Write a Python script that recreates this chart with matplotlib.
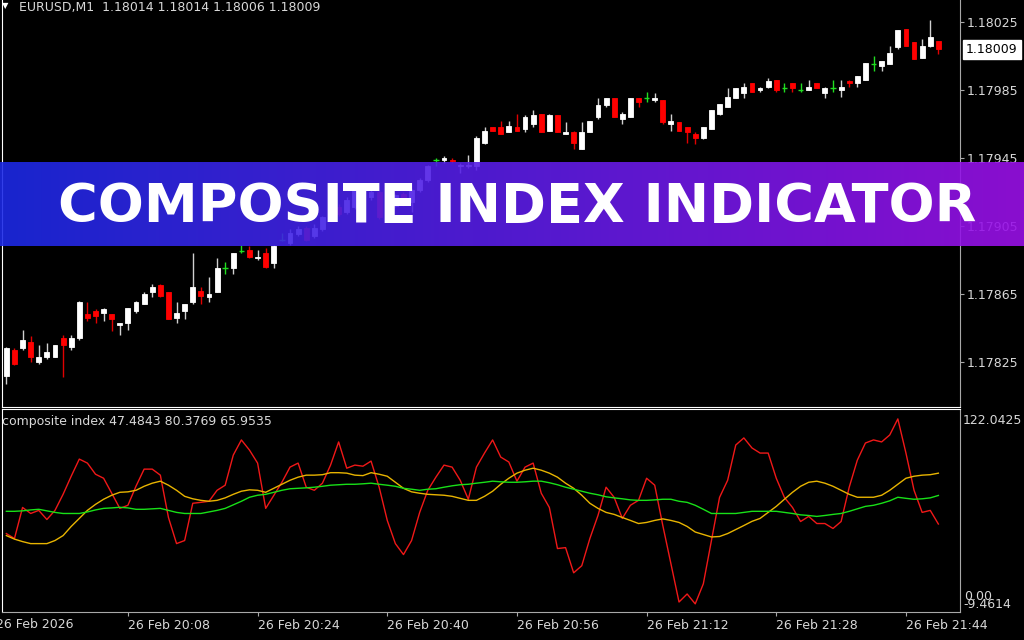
import numpy as np
import pandas as pd
import matplotlib
matplotlib.use("Agg")
import matplotlib.pyplot as plt
from matplotlib.transforms import blended_transform_factory

# EURUSD M1 candles, 26 Feb 2026 from 19:53
start_time = "2026-02-26 19:53"
opens = [1.17817, 1.17832, 1.17833, 1.17837, 1.17825, 1.17828, 1.17828, 1.17839, 1.17834, 1.17839,
         1.17853, 1.17855, 1.17854, 1.17853, 1.17847, 1.17848, 1.17855, 1.17859, 1.17866, 1.17870,
         1.17866, 1.17851, 1.17855, 1.17860, 1.17867, 1.17863, 1.17866, 1.17880, 1.17880, 1.17890,
         1.17891, 1.17886, 1.17889, 1.17883, 1.17897, 1.17895, 1.17900, 1.17904, 1.17899, 1.17903,
         1.17909, 1.17916, 1.17913, 1.17916, 1.17926, 1.17922, 1.17925, 1.17910, 1.17917, 1.17924,
         1.17919, 1.17926, 1.17932, 1.17944, 1.17944, 1.17944, 1.17940, 1.17940, 1.17940, 1.17954,
         1.17963, 1.17963, 1.17960, 1.17963, 1.17962, 1.17965, 1.17971, 1.17961, 1.17970, 1.17959,
         1.17960, 1.17950, 1.17960, 1.17969, 1.17976, 1.17980, 1.17968, 1.17969, 1.17980, 1.17980,
         1.17979, 1.17979, 1.17965, 1.17966, 1.17963, 1.17959, 1.17957, 1.17962, 1.17971, 1.17975,
         1.17980, 1.17983, 1.17989, 1.17985, 1.17987, 1.17991, 1.17986, 1.17989, 1.17985, 1.17985,
         1.17989, 1.17983, 1.17986, 1.17985, 1.17990, 1.17989, 1.17991, 1.18000, 1.17999, 1.18000,
         1.18010, 1.18021, 1.18013, 1.18004, 1.18011, 1.18014]
highs = [1.17834, 1.17833, 1.17844, 1.17840, 1.17835, 1.17836, 1.17835, 1.17841, 1.17841, 1.17861,
         1.17860, 1.17856, 1.17857, 1.17853, 1.17848, 1.17857, 1.17861, 1.17866, 1.17871, 1.17871,
         1.17866, 1.17860, 1.17859, 1.17889, 1.17869, 1.17875, 1.17886, 1.17884, 1.17889, 1.17894,
         1.17893, 1.17891, 1.17892, 1.17894, 1.17901, 1.17903, 1.17905, 1.17905, 1.17906, 1.17911,
         1.17917, 1.17918, 1.17922, 1.17928, 1.17929, 1.17927, 1.17926, 1.17919, 1.17924, 1.17925,
         1.17927, 1.17933, 1.17941, 1.17945, 1.17946, 1.17945, 1.17942, 1.17947, 1.17958, 1.17963,
         1.17963, 1.17967, 1.17967, 1.17971, 1.17970, 1.17973, 1.17971, 1.17971, 1.17970, 1.17966,
         1.17961, 1.17966, 1.17967, 1.17980, 1.17980, 1.17980, 1.17972, 1.17980, 1.17980, 1.17984,
         1.17983, 1.17979, 1.17971, 1.17966, 1.17963, 1.17960, 1.17963, 1.17973, 1.17977, 1.17986,
         1.17986, 1.17989, 1.17989, 1.17987, 1.17992, 1.17991, 1.17989, 1.17989, 1.17989, 1.17991,
         1.17989, 1.17987, 1.17991, 1.17991, 1.17991, 1.17993, 1.18001, 1.18005, 1.18002, 1.18011,
         1.18020, 1.18021, 1.18013, 1.18015, 1.18026, 1.18014]
lows = [1.17812, 1.17823, 1.17832, 1.17825, 1.17824, 1.17827, 1.17828, 1.17816, 1.17832, 1.17838,
        1.17849, 1.17848, 1.17849, 1.17843, 1.17841, 1.17844, 1.17854, 1.17859, 1.17863, 1.17863,
        1.17850, 1.17848, 1.17850, 1.17859, 1.17859, 1.17860, 1.17866, 1.17877, 1.17877, 1.17889,
        1.17886, 1.17885, 1.17880, 1.17880, 1.17896, 1.17894, 1.17899, 1.17896, 1.17898, 1.17902,
        1.17908, 1.17911, 1.17912, 1.17915, 1.17921, 1.17920, 1.17909, 1.17909, 1.17916, 1.17917,
        1.17913, 1.17925, 1.17931, 1.17940, 1.17942, 1.17942, 1.17936, 1.17939, 1.17938, 1.17953,
        1.17961, 1.17959, 1.17960, 1.17961, 1.17960, 1.17963, 1.17960, 1.17961, 1.17960, 1.17959,
        1.17950, 1.17950, 1.17960, 1.17968, 1.17975, 1.17969, 1.17965, 1.17969, 1.17975, 1.17978,
        1.17978, 1.17965, 1.17961, 1.17961, 1.17954, 1.17953, 1.17956, 1.17962, 1.17970, 1.17975,
        1.17980, 1.17980, 1.17984, 1.17984, 1.17986, 1.17984, 1.17984, 1.17984, 1.17984, 1.17985,
        1.17986, 1.17980, 1.17984, 1.17981, 1.17987, 1.17987, 1.17991, 1.17996, 1.17996, 1.18000,
        1.18009, 1.18011, 1.18003, 1.18004, 1.18010, 1.18006]
closes = [1.17833, 1.17824, 1.17838, 1.17828, 1.17828, 1.17831, 1.17835, 1.17835, 1.17839, 1.17860,
          1.17851, 1.17852, 1.17856, 1.17850, 1.17848, 1.17857, 1.17860, 1.17865, 1.17869, 1.17864,
          1.17850, 1.17854, 1.17859, 1.17869, 1.17864, 1.17865, 1.17880, 1.17880, 1.17889, 1.17890,
          1.17887, 1.17887, 1.17881, 1.17893, 1.17897, 1.17901, 1.17903, 1.17897, 1.17904, 1.17910,
          1.17916, 1.17912, 1.17920, 1.17926, 1.17923, 1.17925, 1.17910, 1.17917, 1.17923, 1.17919,
          1.17926, 1.17932, 1.17940, 1.17944, 1.17945, 1.17943, 1.17941, 1.17941, 1.17957, 1.17961,
          1.17961, 1.17959, 1.17964, 1.17961, 1.17969, 1.17970, 1.17960, 1.17970, 1.17960, 1.17960,
          1.17954, 1.17960, 1.17967, 1.17976, 1.17980, 1.17969, 1.17971, 1.17980, 1.17978, 1.17980,
          1.17980, 1.17966, 1.17967, 1.17961, 1.17960, 1.17957, 1.17963, 1.17973, 1.17977, 1.17981,
          1.17986, 1.17987, 1.17984, 1.17986, 1.17990, 1.17985, 1.17986, 1.17986, 1.17985, 1.17987,
          1.17986, 1.17986, 1.17986, 1.17987, 1.17989, 1.17993, 1.18001, 1.18000, 1.18002, 1.18007,
          1.18020, 1.18011, 1.18003, 1.18011, 1.18016, 1.18009]

# composite index indicator buffers
composite = [41.3, 38.1, 58.2, 54.3, 56.3, 50.4, 56.3, 66.7, 78.4, 89.5,
             86.9, 79.7, 77.1, 67.4, 57.6, 59.6, 72.0, 83.0, 83.0, 79.1,
             51.7, 34.8, 36.8, 60.9, 61.5, 62.2, 69.3, 72.6, 92.1, 101.9,
             95.3, 86.9, 57.6, 66.0, 74.5, 84.3, 86.9, 71.3, 69.3, 73.9,
             85.6, 100.6, 83.6, 85.6, 84.9, 88.2, 71.3, 49.8, 34.8, 27.7,
             36.8, 55.0, 69.3, 77.8, 85.6, 84.3, 75.8, 63.5, 84.3, 93.4,
             101.9, 90.8, 87.6, 75.2, 84.3, 86.9, 67.4, 58.2, 31.6, 32.2,
             15.9, 20.5, 38.1, 53.0, 71.3, 64.7, 51.1, 59.6, 62.8, 77.1,
             72.6, 46.5, 21.8, -3.0, 2.2, -4.2, 8.8, 36.8, 64.7, 75.8,
             98.6, 103.2, 96.7, 93.4, 93.4, 77.1, 64.7, 58.2, 49.1, 52.4,
             47.8, 47.8, 44.6, 49.1, 71.3, 88.8, 99.9, 101.9, 100.6, 105.1,
             115.5, 93.4, 69.3, 55.0, 56.3, 47.4843]
fast_ma = [40.0, 37.7, 36.1, 34.8, 34.8, 34.8, 36.8, 40.0, 45.9, 51.1,
           56.3, 60.2, 63.5, 66.1, 68.0, 68.3, 69.3, 71.9, 73.9, 75.2,
           72.6, 69.3, 65.4, 63.8, 62.8, 62.2, 62.8, 64.4, 66.7, 68.7,
           69.6, 69.3, 68.0, 70.6, 73.2, 75.8, 77.8, 79.1, 79.1, 79.4,
           80.7, 80.7, 80.4, 79.1, 78.8, 80.7, 79.7, 78.4, 74.5, 70.6,
           68.3, 67.4, 66.7, 66.4, 66.1, 65.4, 64.1, 62.8, 62.8, 65.4,
           68.7, 73.2, 77.1, 80.4, 82.3, 83.6, 82.3, 80.4, 77.8, 73.9,
           70.6, 66.1, 60.9, 57.6, 55.0, 53.7, 51.7, 49.8, 47.8, 48.5,
           49.8, 50.8, 49.8, 48.5, 45.9, 42.3, 40.7, 39.1, 39.4, 41.3,
           43.9, 46.5, 49.2, 51.1, 55.0, 58.9, 63.5, 68.0, 71.9, 74.5,
           75.2, 73.9, 71.9, 69.3, 66.7, 64.8, 64.8, 64.8, 66.1, 69.3,
           73.2, 77.1, 78.4, 79.1, 79.4, 80.3769]
slow_ma = [55.7, 55.7, 56.0, 56.6, 57.0, 56.0, 55.0, 54.3, 54.3, 54.3,
           55.3, 56.6, 57.6, 57.9, 58.3, 57.9, 57.0, 57.0, 57.3, 57.6,
           56.3, 55.0, 54.3, 54.3, 54.3, 55.3, 56.3, 57.6, 59.9, 62.2,
           64.8, 66.1, 66.7, 68.0, 69.3, 70.3, 70.6, 70.9, 71.3, 71.9,
           72.6, 72.9, 73.2, 73.2, 73.5, 73.9, 73.2, 72.6, 71.9, 70.6,
           70.0, 69.3, 70.0, 70.3, 71.3, 72.2, 72.9, 73.2, 73.9, 74.5,
           75.2, 74.8, 74.5, 74.5, 74.8, 75.2, 75.2, 74.2, 72.9, 71.3,
           70.0, 68.7, 67.4, 66.4, 65.1, 64.4, 63.8, 63.1, 62.8, 62.8,
           63.1, 63.5, 63.5, 62.2, 61.5, 59.6, 57.0, 54.3, 54.3, 54.3,
           54.3, 55.0, 55.7, 55.7, 55.7, 55.7, 55.0, 54.3, 53.4, 53.0,
           52.4, 53.0, 53.7, 54.3, 55.7, 57.3, 58.9, 59.6, 60.9, 62.5,
           64.8, 64.1, 63.5, 63.8, 64.4, 65.9535]
ind_max = 122.0425
ind_min = -9.4614
ind_level = 0.0
price_ticks = [1.17825, 1.17865, 1.17905, 1.17945, 1.17985, 1.18025]
banner_text = "COMPOSITE INDEX INDICATOR"

W, H = 1024, 640
fig = plt.figure(figsize=(W / 100, H / 100), dpi=100, facecolor='black')


def box(x0, y0, x1, y1):
    # pixel rectangle (origin top-left) -> figure fraction
    return [x0 / W, 1 - y1 / H, (x1 - x0) / W, (y1 - y0) / H]


ax = fig.add_axes(box(1.5, 0, 960, 406.5))
axi = fig.add_axes(box(1.5, 408.8, 960, 612))

o, h, l, c = map(np.array, (opens, highs, lows, closes))
bars = np.arange(len(c))
diff = np.round((c - o) * 1e5)
up, dn, dj = diff > 0, diff < 0, diff == 0

ax.vlines(bars[up], l[up], h[up], color='#d0d0d0', lw=1)
ax.vlines(bars[dn], l[dn], h[dn], color='#e00000', lw=1)
ax.vlines(bars[dj], l[dj], h[dj], color='#20dd20', lw=1)
ax.bar(bars[up], (c - o)[up], bottom=o[up], width=0.6, color='white', edgecolor='white', lw=0.6, zorder=3)
ax.bar(bars[dn], (c - o)[dn], bottom=o[dn], width=0.6, color='#ff0000', edgecolor='#ff0000', lw=0.6, zorder=3)
ax.hlines(c[dj], bars[dj] - 0.35, bars[dj] + 0.35, color='#20dd20', lw=1, zorder=3)

axi.plot(bars, composite, color='#f01818', lw=1.0)
axi.plot(bars, fast_ma, color='#e8b400', lw=1.0)
axi.plot(bars, slow_ma, color='#18e018', lw=1.0)

for a in (ax, axi):
    a.set_facecolor('black')
    a.set_xlim(-0.6, 117.67)
    a.spines['left'].set_color('white')
    a.spines['right'].set_color('#a8a8a8')

ax.set_ylim(1.177988, 1.180379)
ax.spines['top'].set_visible(False)
ax.spines['bottom'].set_color('white')
ax.set_xticks([])
ax.yaxis.tick_right()
ax.set_yticks(price_ticks)
ax.set_yticklabels([f"{v:.5f}" for v in price_ticks])
ax.tick_params(axis='y', color='#a8a8a8', labelcolor='#d8d8d8', length=3, pad=2, labelsize=9)

# last price box
tr = blended_transform_factory(ax.transAxes, ax.transData)
ax.text(1.0063, c[-1], f"{c[-1]:.5f}", transform=tr, ha='left', va='center', fontsize=9,
        color='black', clip_on=False, zorder=6,
        bbox=dict(boxstyle='square,pad=0.25', fc='white', ec='white'))

axi.set_ylim(ind_min, ind_max)
axi.spines['top'].set_color('white')
axi.spines['bottom'].set_color('#a8a8a8')
axi.set_yticks([])
times = pd.date_range(start_time, periods=len(c), freq="min")
mins = times.hour * 60 + times.minute
tick_idx = np.where(mins % 16 == 8)[0]
axi.set_xticks(tick_idx)
axi.set_xticklabels(times[tick_idx].strftime("%d %b %H:%M"), ha='left')
axi.tick_params(axis='x', color='#a8a8a8', labelcolor='#d8d8d8', length=3, pad=2, labelsize=9)

txt = dict(color='#d8d8d8', fontsize=9, va='center', ha='left')
fig.text(-4 / W, 1 - 625 / H, times[0].strftime("%d %b %Y"), **txt)
fig.text(963 / W, 1 - 420 / H, f"{ind_max:.4f}", **txt)
fig.text(963 / W, 1 - 605 / H, f"{ind_min:.4f}", **txt)
fig.text(964 / W, 1 - 597 / H, f"{ind_level:.2f}", **txt)
fig.text(2 / W, 1 - 421 / H,
         f"composite index {composite[-1]:.4f} {fast_ma[-1]:.4f} {slow_ma[-1]:.4f}", **txt)
fig.text(19 / W, 1 - 7 / H, f"EURUSD,M1  {o[-1]:.5f} {h[-1]:.5f} {l[-1]:.5f} {c[-1]:.5f}", **txt)
fig.text(2 / W, 1 - 6 / H, "\u25bc", color='white', fontsize=6, va='center', ha='left')

# banner
axb = fig.add_axes(box(0, 161.7, 1024, 246.5))
axb.set_zorder(10)
left = np.array([28, 42, 230]) / 255
right = np.array([154, 16, 232]) / 255
g = np.linspace(0, 1, 256)[:, None]
grad = (left + (right - left) * g)[None, :, :]
axb.imshow(grad, aspect='auto', extent=(0, 1, 0, 1), alpha=0.9, interpolation='bilinear')
axb.set_xlim(0, 1)
axb.set_ylim(0, 1)
axb.axis('off')
axb.text(517.5 / W, (246.5 - 222) / 84.8, banner_text, ha='center', va='baseline',
         color='white', fontsize=39, fontweight='bold', family='DejaVu Sans')

fig.savefig("out.png", dpi=100, facecolor='black')
